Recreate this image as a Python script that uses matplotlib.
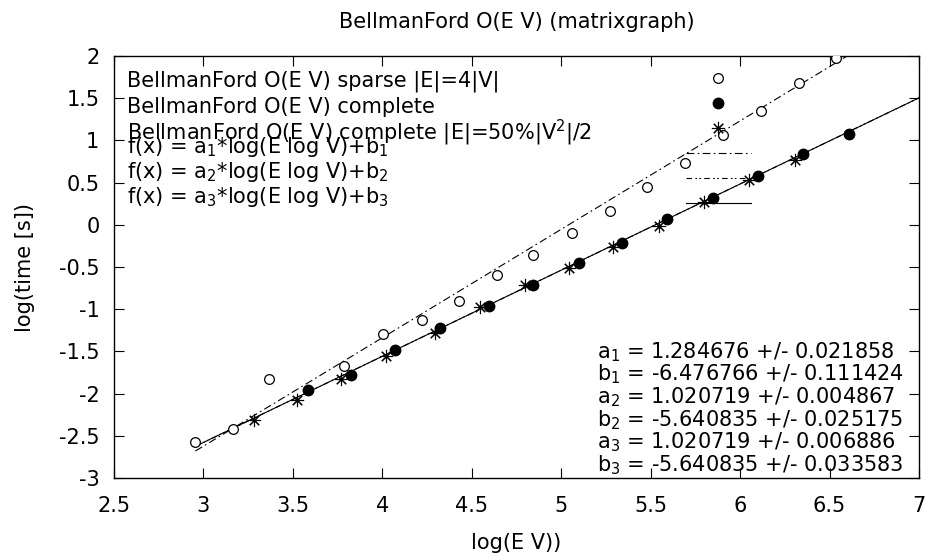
import matplotlib
matplotlib.use("Agg")
import matplotlib.pyplot as plt
import numpy as np

plt.rcParams['font.family'] = ['DejaVu Sans']
plt.rcParams['mathtext.default'] = 'regular'

# Data
sparse_x = [2.955, 3.164, 3.365, 3.788, 4.004, 4.222, 4.426, 4.639, 4.845, 5.061,
            5.270, 5.480, 5.694, 5.907, 6.117, 6.328, 6.536]
sparse_y = [-2.57, -2.425, -1.83, -1.668, -1.29, -1.124, -0.904, -0.589, -0.352, -0.092,
            0.168, 0.443, 0.732, 1.063, 1.350, 1.685, 1.973]

complete_x = [3.585, 3.823, 4.073, 4.324, 4.594, 4.842, 5.097, 5.341, 5.590, 5.847,
              6.102, 6.353, 6.607]
complete_y = [-1.952, -1.783, -1.487, -1.227, -0.967, -0.719, -0.450, -0.214, 0.070, 0.322,
              0.581, 0.838, 1.074]

half_x = [3.281, 3.523, 3.771, 4.020, 4.292, 4.544, 4.795, 5.041, 5.287, 5.544,
          5.799, 6.050, 6.306]
half_y = [-2.314, -2.070, -1.822, -1.558, -1.278, -0.974, -0.719, -0.514, -0.266, -0.010,
          0.266, 0.531, 0.771]

fit_a = [1.284676, 1.020719, 1.020719]
fit_b = [-6.476766, -5.640835, -5.640835]
fit_da = [0.021858, 0.004867, 0.006886]
fit_db = [0.111424, 0.025175, 0.033583]

x_ticks = [2.5, 3, 3.5, 4, 4.5, 5, 5.5, 6, 6.5, 7]
x_tick_labels = ['2.5', '3', '3.5', '4', '4.5', '5', '5.5', '6', '6.5', '7']
y_ticks = [-3, -2.5, -2, -1.5, -1, -0.5, 0, 0.5, 1, 1.5, 2]
y_tick_labels = ['-3', '-2.5', '-2', '-1.5', '-1', '-0.5', '0', '0.5', '1', '1.5', '2']

labels = ['BellmanFord O(E V) sparse |E|=4|V|',
          'BellmanFord O(E V) complete',
          'BellmanFord O(E V) complete |E|=50%|V$^2$|/2',
          'f(x) = a$_1$*log(E log V)+b$_1$',
          'f(x) = a$_2$*log(E log V)+b$_2$',
          'f(x) = a$_3$*log(E log V)+b$_3$']

FS = 15
W, H = 928, 554
fig = plt.figure(figsize=(W / 100, H / 100), dpi=100)
ax = fig.add_axes([114 / W, 1 - 478 / H, (919 - 114) / W, (478 - 56) / H])

handles = []
handles += ax.plot(sparse_x, sparse_y, linestyle='none', marker='o', ms=7, mfc='white',
                   mec='black', mew=0.9, zorder=3)
handles += ax.plot(complete_x, complete_y, linestyle='none', marker='o', ms=7.5, mfc='black',
                   mec='black', zorder=4)
handles += ax.plot(half_x, half_y, linestyle='none', marker=(8, 2, 0), ms=9.5, mec='black',
                   mew=0.8, zorder=4)

xs = np.linspace(min(sparse_x), 7, 200)
styles = [(0, (7, 3, 1.5, 3)), (0, (5, 3, 1.5, 2, 1.5, 3)), '-']
for i in range(3):
    handles += ax.plot(xs, fit_a[i] * xs + fit_b[i], color='black', lw=0.8,
                       linestyle=styles[i], zorder=2)

ax.set_xlim(2.5, 7)
ax.set_ylim(-3, 2)
ax.set_xticks(x_ticks)
ax.set_xticklabels(x_tick_labels)
ax.set_yticks(y_ticks)
ax.set_yticklabels(y_tick_labels)
ax.tick_params(direction='in', length=7, width=0.8, top=True, right=True,
               labelsize=FS, colors='black')
ax.tick_params(axis='y', pad=10.5)
ax.tick_params(axis='x', pad=13)
for s in ax.spines.values():
    s.set_linewidth(1.0)

ax.set_title('BellmanFord O(E V) (matrixgraph)', fontsize=FS, pad=20)
ax.set_xlabel('log(E V))', fontsize=FS, labelpad=12)
ax.set_ylabel('log(time [s])', fontsize=FS, labelpad=17)

# gnuplot-style key: left-justified text, samples in a column on the right
key_cx, key_top, key_step = 718.0, 77.7, 25.0   # pixel layout of the key samples
renderer = fig.canvas.get_renderer()


def make_key(anchor, lsp):
    return ax.legend(handles, [''] * len(handles), loc='upper left',
                     bbox_to_anchor=anchor, bbox_transform=fig.transFigure,
                     frameon=False, fontsize=FS, handlelength=3.12, handletextpad=0.0,
                     labelspacing=lsp, borderpad=0.0, borderaxespad=0.0)


anchor = [0.7, 0.85]
lsp = 0.2
leg = make_key(tuple(anchor), lsp)
for _ in range(3):
    fig.canvas.draw()
    ext = [h.get_window_extent(renderer) for h in leg.legend_handles]
    cy = [(e.y0 + e.y1) / 2 for e in ext]
    cx = (ext[0].x0 + ext[0].x1) / 2
    step = (cy[0] - cy[-1]) / (len(cy) - 1)
    lsp = lsp + (key_step - step) / (FS * 100 / 72)
    anchor[0] += (key_cx - cx) / W
    anchor[1] += ((H - key_top) - cy[0]) / H
    leg.remove()
    leg = make_key(tuple(anchor), lsp)

text_baselines = [87.0, 112.7, 139.5, 153.0, 177.8, 202.7]
for lab, yb in zip(labels, text_baselines):
    fig.text(127 / W, 1 - yb / H, lab, fontsize=FS, ha='left', va='baseline')

stat_lines = []
for i in range(3):
    stat_lines.append('a$_%d$ = %.6f +/- %.6f' % (i + 1, fit_a[i], fit_da[i]))
    stat_lines.append('b$_%d$ = %.6f +/- %.6f' % (i + 1, fit_b[i], fit_db[i]))
for j, t in enumerate(stat_lines):
    ax.text((597 - 114) / 805, (478 - (352 + j * 22.6)) / 422, t, transform=ax.transAxes,
            fontsize=FS, ha='left', va='center')

fig.savefig('out.png', dpi=100)
